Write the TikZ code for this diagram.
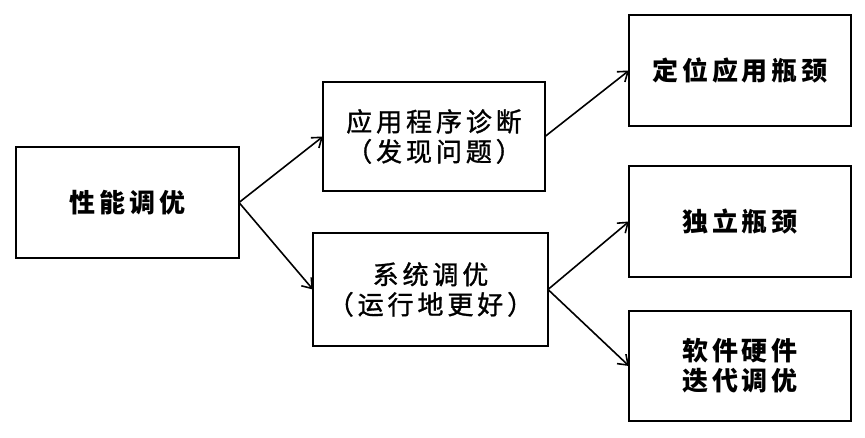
\documentclass[tikz,border=0pt]{standalone}
\usepackage{fontspec}
\newfontfamily\cjk[LetterSpace=15]{Noto Sans CJK SC}
\newfontfamily\cjkm[LetterSpace=15,FakeBold=1.2]{Noto Sans CJK SC}
\usetikzlibrary{arrows.meta}
\begin{document}
\begin{tikzpicture}[x=1pt,y=-1pt,
  box/.style={draw,line width=1.8pt,rectangle,inner sep=0pt,outer sep=0pt,align=center,
    font=\cjkm\fontsize{26}{30}\selectfont},
  boldbox/.style={box,font=\cjk\bfseries\fontsize{26}{30}\selectfont},
  conn/.style={line width=1.6pt,-{Straight Barb[length=9pt,width=13pt,line width=1.6pt]}}]
\useasboundingbox (0,0) rectangle (865,437);
\node[boldbox,minimum width=223pt,minimum height=111pt] (a) at (127.5,202.5) {性能调优};
\node[box,minimum width=222pt,minimum height=109pt] (b) at (434,136.5) {应用程序诊断\\（发现问题）};
\node[box,minimum width=235pt,minimum height=113pt] (c) at (430.5,289.5) {系统调优\\（运行地更好）};
\node[boldbox,minimum width=222pt,minimum height=111pt] (d) at (740,70.5) {定位应用瓶颈};
\node[boldbox,minimum width=222pt,minimum height=111pt] (e) at (740,221.5) {独立瓶颈};
\node[boldbox,minimum width=222pt,minimum height=110pt] (f) at (740,366) {软件硬件\\迭代调优};
\draw[conn] (a.east) -- (b.west);
\draw[conn] (a.east) -- (c.west);
\draw[conn] (b.east) -- (d.west);
\draw[conn] (c.east) -- (e.west);
\draw[conn] (c.east) -- (f.west);
\end{tikzpicture}
\end{document}
